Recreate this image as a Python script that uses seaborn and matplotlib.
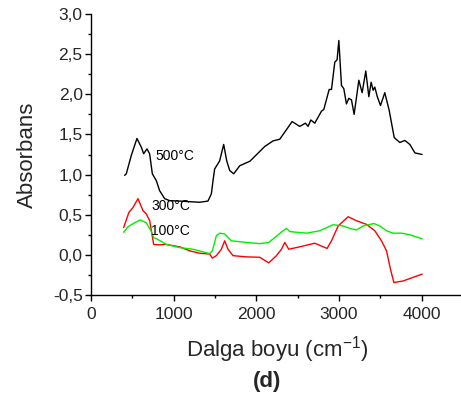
import numpy as np
import pandas as pd
import matplotlib
matplotlib.use("Agg")
import matplotlib.pyplot as plt
from matplotlib.ticker import MultipleLocator, FuncFormatter
import seaborn as sns

# ---- data ----
x_500 = [407, 427, 488, 556, 609, 637, 677, 709, 742, 790, 830, 891, 951, 1072, 1315, 1415, 1456,
         1476, 1496, 1556, 1605, 1642, 1678, 1727, 1799, 1922, 2102, 2203, 2283, 2372, 2433, 2525,
         2594, 2626, 2659, 2707, 2788, 2816, 2881, 2909, 2949, 2977, 2998, 3030, 3058, 3090, 3119,
         3151, 3183, 3240, 3280, 3324, 3361, 3389, 3413, 3433, 3462, 3502, 3554, 3607, 3668, 3736,
         3797, 3857, 3918, 4006]
y_500 = [0.99, 1.01, 1.24, 1.45, 1.34, 1.26, 1.32, 1.26, 1.01, 0.925, 0.80, 0.70, 0.675, 0.67, 0.655,
         0.67, 0.76, 0.925, 1.07, 1.17, 1.375, 1.17, 1.05, 1.01, 1.11, 1.166, 1.35, 1.42, 1.44, 1.57,
         1.66, 1.60, 1.64, 1.60, 1.68, 1.64, 1.79, 1.81, 2.06, 2.06, 2.40, 2.43, 2.67, 2.11, 2.07, 1.88,
         1.95, 1.93, 1.75, 2.175, 2.02, 2.29, 1.97, 2.15, 2.05, 2.09, 1.975, 1.86, 2.02, 1.80, 1.46,
         1.40, 1.425, 1.375, 1.27, 1.25]

x_300 = [395, 459, 508, 568, 629, 669, 710, 758, 810, 911, 1073, 1194, 1315, 1436, 1468, 1517, 1577,
         1617, 1657, 1718, 1880, 2041, 2150, 2202, 2243, 2304, 2344, 2392, 2525, 2707, 2856, 2909,
         2990, 3058, 3110, 3211, 3333, 3433, 3514, 3575, 3623, 3664, 3777, 3897, 4006]
y_300 = [0.34, 0.53, 0.59, 0.70, 0.55, 0.51, 0.425, 0.13, 0.125, 0.13, 0.10, 0.05, 0.02, 0.01, -0.04,
         -0.01, 0.07, 0.175, 0.07, -0.01, -0.025, -0.03, -0.10, -0.05, -0.01, 0.07, 0.155, 0.07, 0.10,
         0.145, 0.08, 0.175, 0.36, 0.425, 0.475, 0.425, 0.38, 0.30, 0.175, 0.05, -0.18, -0.345, -0.325,
         -0.28, -0.24]

x_100 = [395, 447, 528, 596, 669, 730, 758, 830, 911, 1073, 1234, 1436, 1468, 1517, 1557, 1617, 1698,
         1880, 2041, 2150, 2223, 2323, 2364, 2404, 2606, 2767, 2929, 3050, 3131, 3211, 3292, 3421,
         3494, 3575, 3655, 3757, 3857, 4006]
y_100 = [0.28, 0.35, 0.40, 0.435, 0.40, 0.29, 0.215, 0.18, 0.13, 0.09, 0.07, 0.015, 0.05, 0.24, 0.27,
         0.26, 0.175, 0.155, 0.14, 0.155, 0.215, 0.30, 0.33, 0.29, 0.27, 0.30, 0.375, 0.36, 0.33, 0.31,
         0.36, 0.39, 0.36, 0.30, 0.27, 0.27, 0.25, 0.20]

series_names = ["500°C", "300°C", "100°C"]
series_colors = ["#000000", "#ff0000", "#00ee00"]
label_pos = [(785, 1.235), (730, 0.61), (720, 0.30)]

x_ticks = [0, 1000, 2000, 3000, 4000]
y_ticks = [-0.5, 0.0, 0.5, 1.0, 1.5, 2.0, 2.5, 3.0]

df = pd.concat([
    pd.DataFrame({"x": x_500, "y": y_500, "s": series_names[0]}),
    pd.DataFrame({"x": x_300, "y": y_300, "s": series_names[1]}),
    pd.DataFrame({"x": x_100, "y": y_100, "s": series_names[2]}),
], ignore_index=True)

sns.set_theme(style="ticks")
plt.rcParams["font.family"] = ["Liberation Sans", "DejaVu Sans"]
plt.rcParams["mathtext.default"] = "regular"

fig = plt.figure(figsize=(4.61, 3.99), dpi=100)
ax = fig.add_axes([91 / 461, 1 - 295 / 399, (463 - 91) / 461, (295 - 14) / 399])

sns.lineplot(data=df, x="x", y="y", hue="s", palette=dict(zip(series_names, series_colors)),
             estimator=None, sort=False, linewidth=1.0, legend=False, ax=ax)

for name, (lx, ly) in zip(series_names, label_pos):
    ax.text(lx, ly, name, fontsize=10, va="center", ha="left", color="black")

ax.set_xlim(0, 4500)
ax.set_ylim(-0.5, 3.0)
ax.set_xticks(x_ticks)
ax.set_yticks(y_ticks)
ax.xaxis.set_minor_locator(MultipleLocator(500))
ax.yaxis.set_minor_locator(MultipleLocator(0.25))
ax.yaxis.set_major_formatter(FuncFormatter(lambda v, p: f"{v:.1f}".replace(".", ",")))
ax.tick_params(axis="both", which="major", direction="out", length=4, width=1, labelsize=12.5, color="black", pad=2)
ax.tick_params(axis="x", which="major", pad=4.5)
ax.tick_params(axis="both", which="minor", direction="out", length=2.5, width=1, color="black")
for sp in ["top", "right"]:
    ax.spines[sp].set_visible(False)
for sp in ["left", "bottom"]:
    ax.spines[sp].set_color("black")
    ax.spines[sp].set_linewidth(1)

ax.set_xlabel("Dalga boyu (cm$^{-1}$)", fontsize=16, labelpad=9)
ax.set_ylabel("Absorbans", fontsize=16, labelpad=11)
fig.text(267 / 461, 1 - 382 / 399, "(d)", fontsize=16, fontweight="bold", ha="center", va="center")

fig.savefig("out.png", dpi=100)
